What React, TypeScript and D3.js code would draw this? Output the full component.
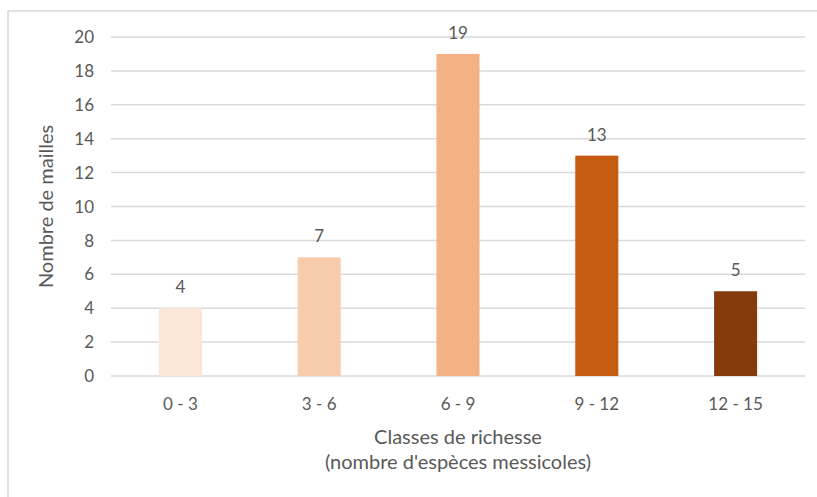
import React from "react";
import * as d3 from "d3";

const categories = ["0 - 3", "3 - 6", "6 - 9", "9 - 12", "12 - 15"];
const values = [4, 7, 19, 13, 5];
const colors = ["#FBE5D6", "#F8CBAD", "#F4B183", "#C55A11", "#843C0C"];
const yTicks = [0, 2, 4, 6, 8, 10, 12, 14, 16, 18, 20];

const W = 817;
const H = 497;
const left = 111;
const right = 805;
const top = 37;
const bottom = 376;
const font = "Lato, 'Open Sans', sans-serif";
const textColor = "#595959";

export default function App() {
  const x = d3
    .scaleBand<string>()
    .domain(categories)
    .range([left, right])
    .paddingInner(0.69)
    .paddingOuter(0.345);
  const y = d3.scaleLinear().domain([0, 20]).range([bottom, top]);

  return (
    <svg
      width={W}
      height={H}
      style={{ position: "fixed", left: 0, top: 0, background: "#fff" }}
      fontFamily={font}
    >
      <rect x={0} y={0} width={W} height={H} fill="#fff" />
      <rect x={8} y={11} width={W + 40} height={H + 40} fill="none" stroke="#D9D9D9" strokeWidth={1.5} />
      {yTicks.map((t) => (
        <g key={t}>
          <line x1={left} x2={right} y1={y(t)} y2={y(t)} stroke="#D9D9D9" strokeWidth={1.5} />
          <text x={94} y={y(t)} dy="0.36em" textAnchor="end" fontSize={17} fill={textColor}>
            {t}
          </text>
        </g>
      ))}
      {categories.map((c, i) => (
        <g key={c}>
          <rect
            x={x(c)}
            y={y(values[i])}
            width={x.bandwidth()}
            height={y(0) - y(values[i])}
            fill={colors[i]}
          />
          <text
            x={(x(c) as number) + x.bandwidth() / 2}
            y={y(values[i]) - 15}
            textAnchor="middle"
            fontSize={17}
            fill={textColor}
          >
            {values[i]}
          </text>
          <text
            x={(x(c) as number) + x.bandwidth() / 2}
            y={410}
            textAnchor="middle"
            fontSize={17}
            fill={textColor}
          >
            {c}
          </text>
        </g>
      ))}
      <text x={(left + right) / 2} y={444} textAnchor="middle" fontSize={20} fill={textColor}>
        Classes de richesse
      </text>
      <text x={(left + right) / 2} y={469} textAnchor="middle" fontSize={20} fill={textColor}>
        (nombre d'espèces messicoles)
      </text>
      <text
        transform={`translate(53, ${(top + bottom) / 2}) rotate(-90)`}
        textAnchor="middle"
        fontSize={20}
        fill={textColor}
      >
        Nombre de mailles
      </text>
    </svg>
  );
}
